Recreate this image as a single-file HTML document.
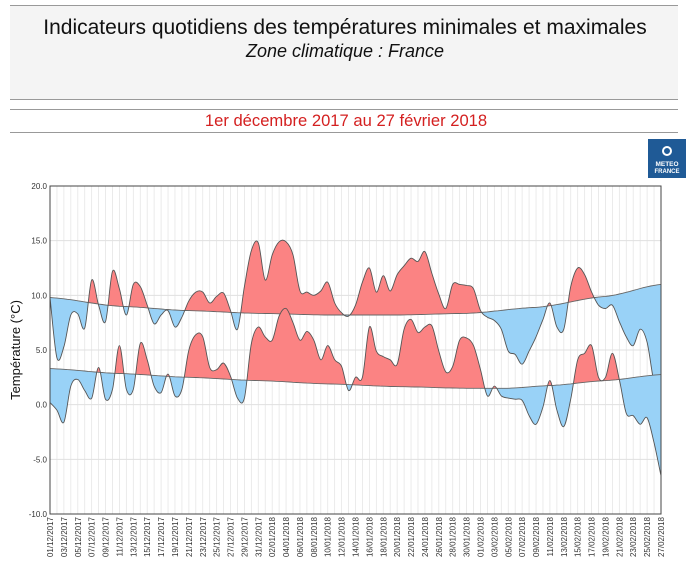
<!DOCTYPE html>
<html><head><meta charset="utf-8"><style>
body{margin:0;background:#fff;width:700px;height:573px;overflow:hidden;font-family:"Liberation Sans",sans-serif}
</style></head><body>
<svg id="s" width="700" height="573" xmlns="http://www.w3.org/2000/svg" font-family="Liberation Sans, sans-serif">
<rect x="10" y="6" width="668" height="93" fill="#f4f4f4"/>
<line x1="10" y1="5.5" x2="678" y2="5.5" stroke="#999"/>
<line x1="10" y1="99.5" x2="678" y2="99.5" stroke="#999"/>
<line x1="10" y1="109.5" x2="678" y2="109.5" stroke="#999"/>
<line x1="10" y1="132.5" x2="678" y2="132.5" stroke="#999"/>
<text x="345" y="34" font-size="21" text-anchor="middle" fill="#111">Indicateurs quotidiens des températures minimales et maximales</text>
<text x="345" y="57" font-size="18" font-style="italic" text-anchor="middle" fill="#111">Zone climatique : France</text>
<text x="346" y="126" font-size="16.6" text-anchor="middle" fill="#d42020">1er décembre 2017 au 27 février 2018</text>
<rect x="648" y="139" width="38" height="39" fill="#1f5a96"/>
<circle cx="667" cy="151" r="4" fill="none" stroke="#fff" stroke-width="2"/>
<text x="667" y="166" font-size="6.5" font-weight="bold" fill="#fff" text-anchor="middle">METEO</text>
<text x="667" y="173" font-size="6" font-weight="bold" fill="#fff" text-anchor="middle">FRANCE</text>
<text transform="translate(20,350) rotate(-90)" font-size="13" text-anchor="middle" fill="#111">Température (°C)</text>
<g id="g"></g>
</svg>
<script>
var L=50,R=661,T=186,B=514,N=88;
function X(d){return L+(R-L)*d/N}
function Y(t){return T+(20-t)*(B-T)/30}
var mx=[9.8,4.3,5.3,8.2,8.3,7.0,11.4,9.1,7.6,12.2,10.6,8.2,11.0,10.8,9.1,7.4,8.2,8.6,7.1,8.0,9.5,10.3,10.3,9.3,9.9,10.2,8.6,6.9,10.8,14.1,14.8,11.4,13.7,14.9,14.9,13.7,10.4,10.3,10.0,10.4,11.2,9.3,8.4,8.1,9.1,11.2,12.5,10.3,11.8,10.4,11.9,12.7,13.4,13.1,14.0,12.0,10.1,8.8,11.0,11.0,10.9,10.6,8.6,8.0,7.7,6.9,4.9,4.6,3.7,4.9,6.2,7.8,9.3,7.1,6.9,10.8,12.5,11.9,10.3,9.1,8.8,9.1,7.6,6.2,5.4,6.9,5.7,2.0,0.3];
var mn=[0.2,-0.5,-1.6,1.7,2.3,1.3,0.6,3.4,0.5,1.4,5.4,1.4,1.4,5.6,4.1,1.7,1.1,2.8,0.8,1.4,5.0,6.4,6.2,3.4,3.2,3.8,2.6,0.6,0.6,5.6,7.1,6.2,5.9,8.1,8.8,7.5,5.9,6.7,5.9,4.1,5.4,4.1,3.5,1.3,2.5,2.5,7.1,4.9,4.4,4.1,3.7,6.9,7.8,6.6,7.1,7.2,4.9,3.0,3.5,5.9,6.1,5.4,3.2,0.8,1.7,0.8,0.6,0.5,0.4,-1.0,-1.8,-0.2,2.2,-0.5,-2.0,0.5,4.1,4.7,5.4,2.5,2.5,4.7,2.3,-0.8,-1.0,-1.8,-1.2,-3.5,-6.5];
function interp(pts,d){for(var i=0;i<pts.length-1;i++){if(d<=pts[i+1][0]){var a=pts[i],b=pts[i+1],f=(d-a[0])/(b[0]-a[0]);var s=(1-Math.cos(Math.PI*f))/2;return a[1]+(b[1]-a[1])*(f*0.5+s*0.5)}}return pts[pts.length-1][1]}
var nxK=[[0,9.8],[10,9.0],[20,8.6],[30,8.35],[40,8.2],[50,8.2],[60,8.35],[70,8.9],[80,9.9],[88,11.0]];
var nnK=[[0,3.3],[10,2.85],[20,2.5],[30,2.2],[40,1.9],[50,1.65],[60,1.5],[66,1.5],[72,1.75],[80,2.2],[88,2.75]];
function npath(K){var s="";for(var d=0;d<=N;d+=0.5){s+=(d?"L":"M")+X(d).toFixed(1)+","+Y(interp(K,d)).toFixed(1)}return s}
function npts(K){var a=[];for(var d=0;d<=N;d+=0.5)a.push([X(d),Y(interp(K,d))]);return a}
function smooth(v){var p=v.map(function(t,i){return[X(i),Y(t)]});var s="M"+p[0][0].toFixed(1)+","+p[0][1].toFixed(1);
for(var i=0;i<p.length-1;i++){var p0=p[i-1]||p[i],p1=p[i],p2=p[i+1],p3=p[i+2]||p2;
var c1=[p1[0]+(p2[0]-p0[0])/6,p1[1]+(p2[1]-p0[1])/6],c2=[p2[0]-(p3[0]-p1[0])/6,p2[1]-(p3[1]-p1[1])/6];
s+="C"+c1[0].toFixed(1)+","+c1[1].toFixed(1)+" "+c2[0].toFixed(1)+","+c2[1].toFixed(1)+" "+p2[0].toFixed(1)+","+p2[1].toFixed(1)}return s}
var h='';
h+='<rect x="'+L+'" y="'+T+'" width="'+(R-L)+'" height="'+(B-T)+'" fill="#fff"/>';
for(var d=0;d<=N;d++)h+='<line x1="'+X(d)+'" y1="'+T+'" x2="'+X(d)+'" y2="'+B+'" stroke="#e6e6e6" stroke-width="0.8"/>';
for(var t=-10;t<=20;t+=5){h+='<line x1="'+L+'" y1="'+Y(t)+'" x2="'+R+'" y2="'+Y(t)+'" stroke="#e0e0e0"/>';
h+='<text x="'+(L-3)+'" y="'+(Y(t)+3)+'" font-size="8" text-anchor="end" fill="#333">'+t.toFixed(1)+'</text>'}
function clipAbove(K,id){var a=npts(K),s="M"+L+","+T;a.forEach(function(q){s+="L"+q[0].toFixed(1)+","+q[1].toFixed(1)});s+="L"+R+","+T+"Z";
var b="M"+L+","+B;a.forEach(function(q){b+="L"+q[0].toFixed(1)+","+q[1].toFixed(1)});b+="L"+R+","+B+"Z";
return '<clipPath id="'+id+'a"><path d="'+s+'"/></clipPath><clipPath id="'+id+'b"><path d="'+b+'"/></clipPath>'}
h+='<defs>'+clipAbove(nxK,'x')+clipAbove(nnK,'n')+'<clipPath id="pl"><rect x="'+L+'" y="'+T+'" width="'+(R-L)+'" height="'+(B-T)+'"/></clipPath></defs>';
function band(v,K,id){var c=smooth(v),n=npts(K).reverse(),s=c;n.forEach(function(q){s+="L"+q[0].toFixed(1)+","+q[1].toFixed(1)});s+="Z";
return '<g clip-path="url(#pl)"><path d="'+s+'" fill="#fb8383" clip-path="url(#'+id+'a)"/><path d="'+s+'" fill="#99d2f7" clip-path="url(#'+id+'b)"/>'+
'<path d="'+npath(K)+'" fill="none" stroke="#666" stroke-width="0.9"/><path d="'+c+'" fill="none" stroke="#555" stroke-width="0.9"/></g>'}
h+=band(mx,nxK,'x')+band(mn,nnK,'n');
h+='<rect x="'+L+'" y="'+T+'" width="'+(R-L)+'" height="'+(B-T)+'" fill="none" stroke="#444"/>';
var d0=new Date(Date.UTC(2017,11,1));
for(var d=0;d<=N;d++){if(d%2==1&&d!=N)continue;if(d==N-1)continue;var dt=new Date(d0.getTime()+d*864e5);
var lab=("0"+dt.getUTCDate()).slice(-2)+"/"+("0"+(dt.getUTCMonth()+1)).slice(-2)+"/"+dt.getUTCFullYear();
h+='<text transform="translate('+(X(d)+3)+','+(B+3)+') rotate(-90)" font-size="8" text-anchor="end" fill="#333">'+lab+'</text>'}
document.getElementById('g').innerHTML=h;
</script>
</body></html>
